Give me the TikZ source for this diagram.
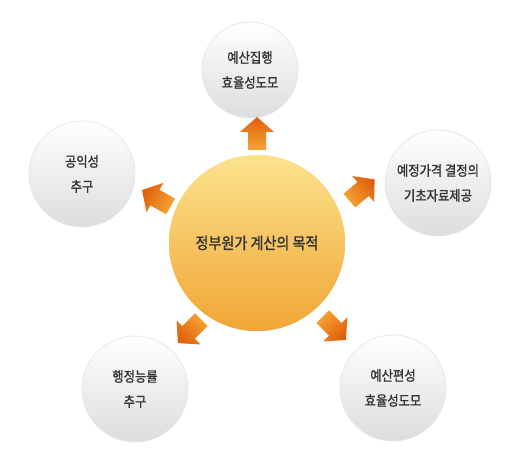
\documentclass[tikz,border=0pt]{standalone}
\usepackage{fontspec}
\newfontfamily\kr[FakeStretch=0.88,FakeBold=1.3]{Noto Sans CJK KR}
\definecolor{txt}{HTML}{333333}
\definecolor{gry}{HTML}{DBDDDF}
\definecolor{edge}{HTML}{E7E7E8}
\definecolor{ylw}{HTML}{FBE38E}
\definecolor{org}{HTML}{F1A534}
\definecolor{adark}{HTML}{E0600C}
\definecolor{alight}{HTML}{F5A535}
\begin{document}
\begin{tikzpicture}[x=1pt,y=-1pt,
  small/.style={circle, minimum size=106pt, inner sep=0pt, top color=white, bottom color=gry,
    draw=edge, line width=0.8pt, font=\kr\fontsize{14}{25}\selectfont, text=txt, align=center},
  big/.style={circle, minimum size=178pt, inner sep=0pt, top color=ylw, bottom color=org,
    draw=white, line width=1.5pt, font=\kr\fontsize{16}{18}\selectfont, text=txt},
  pics/oarrow/.style={code={
    \shade[top color=adark, bottom color=alight, shading angle=#1]
      (0,-16.5) -- (17,-1.5) -- (9,-1.5) -- (9,16.5) -- (-9,16.5) -- (-9,-1.5) -- (-17,-1.5) -- cycle;}}
]
\useasboundingbox (0,0) rectangle (523,470);
\fill[white] (0,0) rectangle (523,470);

\node[big] (c) at (257,243) {정부원가 계산의 목적};
\node[small, minimum size=96pt] (t) at (250,70) {예산집행\\효율성도모};
\node[small] (r) at (438,183) {예정가격 결정의\\기초자료제공};
\node[small] (l) at (82,174) {공익성\\추구};
\node[small] (bl) at (135,389) {행정능률\\추구};
\node[small] (br) at (393,388) {예산편성\\효율성도모};

\pic at (257,133.5) {oarrow=0};
\pic[rotate=60] at (156.3,198.3) {oarrow=60};
\pic[rotate=-50] at (362,190) {oarrow=-50};
\pic[rotate=135] at (189.6,331.4) {oarrow=135};
\pic[rotate=-135] at (334.3,328.3) {oarrow=-135};
\end{tikzpicture}
\end{document}
